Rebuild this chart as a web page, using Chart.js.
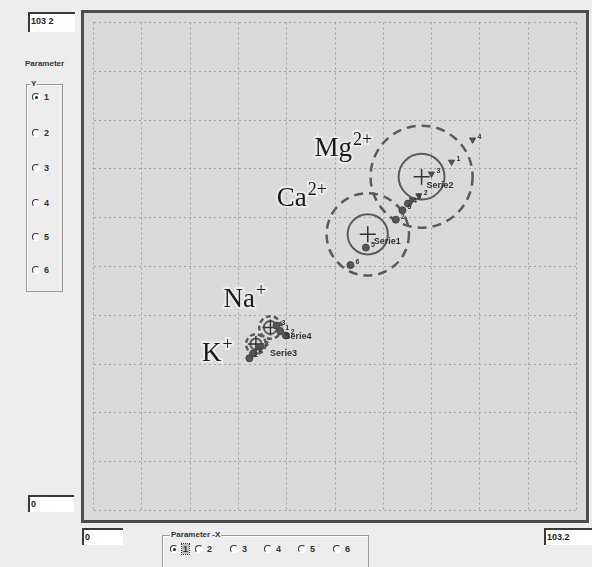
<!DOCTYPE html>
<html>
<head>
<meta charset="utf-8">
<script src="https://cdn.jsdelivr.net/npm/chart.js@4.4.1/dist/chart.umd.min.js"></script>
<style>
  body { margin: 0; background: #ededed; font-family: "Liberation Sans", Arial, sans-serif; }
  #page { position: relative; width: 592px; height: 567px; overflow: hidden; background: #ededed; }
  .box { position: absolute; background: #fff; border-top: 2px solid #3a3a3a; border-left: 2px solid #3a3a3a;
         box-sizing: border-box; font-size: 9px; font-weight: bold; line-height: 14px; padding-left: 1px; color: #222; }
  #plot { position: absolute; left: 81px; top: 10px; width: 508px; height: 513px; border: 3px solid #4d4d4d;
          box-sizing: border-box; background: #dadada; }
  #plot canvas { display: block; }
  .lbl { position: absolute; font-size: 8px; font-weight: bold; color: #333; }
  .group { position: absolute; border: 1px solid #9a9a9a; box-shadow: inset 1px 1px 0 #fff; }
  .legend { position: absolute; background: #ededed; font-size: 8px; font-weight: bold; color: #333; padding: 0 1px; line-height: 9px; }
  .radio { position: absolute; font-size: 9px; font-weight: bold; color: #333; line-height: 10px; white-space: nowrap; }
  .radio i { display: inline-block; width: 6px; height: 6px; border-radius: 50%; border: 1.5px solid;
             border-color: #333 #fff #fff #333; background: #fff; vertical-align: -1px; margin-right: 4px; position: relative; }
  .radio i.on::after { content: ""; position: absolute; left: 1.5px; top: 1.5px; width: 3px; height: 3px; border-radius: 50%; background: #222; }
  .focus { outline: 1px dotted #333; background: #bbb; padding: 0 1px; }
</style>
</head>
<body>
<div id="page">
  <div class="box" style="left:28px;top:12px;width:47px;height:20px;">103 2</div>
  <div class="lbl" style="left:25px;top:59px;">Parameter</div>
  <div class="group" style="left:26px;top:84px;width:35px;height:206px;"></div>
  <div class="legend" style="left:30px;top:79px;">Y</div>
  <div class="radio" style="left:32px;top:92px;"><i class="on"></i>1</div>
  <div class="radio" style="left:32px;top:128px;"><i></i>2</div>
  <div class="radio" style="left:32px;top:163px;"><i></i>3</div>
  <div class="radio" style="left:32px;top:198px;"><i></i>4</div>
  <div class="radio" style="left:32px;top:232px;"><i></i>5</div>
  <div class="radio" style="left:32px;top:265px;"><i></i>6</div>

  <div class="box" style="left:28px;top:495px;width:46px;height:17px;">0</div>
  <div class="box" style="left:82px;top:528px;width:41px;height:17px;">0</div>
  <div class="box" style="left:544px;top:528px;width:48px;height:17px;">103.2</div>

  <div class="group" style="left:162px;top:535px;width:205px;height:40px;"></div>
  <div class="legend" style="left:170px;top:530px;">Parameter -X</div>
  <div class="radio" style="left:170px;top:544px;"><i class="on"></i><span class="focus">1</span></div>
  <div class="radio" style="left:195px;top:544px;"><i></i>2</div>
  <div class="radio" style="left:230px;top:544px;"><i></i>3</div>
  <div class="radio" style="left:264px;top:544px;"><i></i>4</div>
  <div class="radio" style="left:298px;top:544px;"><i></i>5</div>
  <div class="radio" style="left:333px;top:544px;"><i></i>6</div>

  <div id="plot"><canvas id="chart" width="502" height="507"></canvas></div>
</div>

<script>
// axis range and grid
const axisMin = 0;
const axisMax = 103.2;
const gridTicks = [0, 10.32, 20.64, 30.96, 41.28, 51.6, 61.92, 72.24, 82.56, 92.88, 103.2];

// series summary (mean + spread circles)
const seriesNames = ['Serie1', 'Serie2', 'Serie3', 'Serie4'];
const ionNames = ['Ca', 'Mg', 'K', 'Na'];
const ionCharges = ['2+', '2+', '+', '+'];
const meanX = [58.6, 70.1, 34.7, 37.8];
const meanY = [58.4, 70.6, 35.2, 38.7];
const innerRadius = [4.3, 4.9, 1.2, 1.4];
const outerRadius = [8.8, 10.9, 2.1, 2.4];

// individual samples
const serie1X = [54.9, 58.2, 64.6, 66.0, 67.2];
const serie1Y = [51.9, 55.6, 61.5, 63.5, 64.9];
const serie1Ids = ['6', '5', '2', '3', '4'];
const serie2X = [81.0, 76.5, 72.2, 69.5, 68.1];
const serie2Y = [78.4, 73.7, 71.2, 66.6, 65.7];
const serie2Ids = ['4', '1', '3', '2', '5'];
const serie3X = [34.1, 33.3, 35.6];
const serie3Y = [33.2, 32.2, 34.6];
const serie3Ids = ['1', '2', '3'];
const serie4X = [39.9, 41.1, 39.1];
const serie4Y = [37.9, 37.0, 39.1];
const serie4Ids = ['1', '2', '3'];

// label placement (pixels from the mean)
const ionLabelOffsets = [[-91, -28], [-107, -21], [-54, 17], [-47, -21]];
const seriesLabelOffsets = [[6, 7], [5, 9], [14, 9], [14, 9]];

const INK = '#5a5a5a';

function toPoints(xs, ys) {
  return xs.map((x, i) => ({ x, y: ys[i] }));
}

const sampleSets = [
  { x: serie1X, y: serie1Y, ids: serie1Ids, style: 'circle', rotation: 0 },
  { x: serie2X, y: serie2Y, ids: serie2Ids, style: 'triangle', rotation: 180 },
  { x: serie3X, y: serie3Y, ids: serie3Ids, style: 'circle', rotation: 0 },
  { x: serie4X, y: serie4Y, ids: serie4Ids, style: 'circle', rotation: 0 },
];

const datasets = sampleSets.map((s, i) => ({
  label: seriesNames[i],
  data: toPoints(s.x, s.y),
  pointStyle: s.style,
  rotation: s.rotation,
  pointRadius: 3.5,
  backgroundColor: '#555',
  borderColor: '#444',
  borderWidth: 1,
  ids: s.ids,
}));

datasets.push({
  label: 'means',
  data: toPoints(meanX, meanY),
  pointStyle: 'cross',
  pointRadius: 8,
  borderColor: '#333',
  borderWidth: 1.5,
});

const clusterPlugin = {
  id: 'clusters',
  beforeDatasetsDraw(chart) {
    const { ctx, chartArea, scales: { x, y } } = chart;
    ctx.save();
    ctx.beginPath();
    ctx.rect(chartArea.left, chartArea.top, chartArea.width, chartArea.height);
    ctx.clip();
    ctx.strokeStyle = INK;
    seriesNames.forEach((_, i) => {
      const cx = x.getPixelForValue(meanX[i]);
      const cy = y.getPixelForValue(meanY[i]);
      const rIn = x.getPixelForValue(meanX[i] + innerRadius[i]) - cx;
      const rOut = x.getPixelForValue(meanX[i] + outerRadius[i]) - cx;
      ctx.lineWidth = 2.5;
      ctx.setLineDash(rOut > 20 ? [9, 6] : [5, 3]);
      ctx.beginPath();
      ctx.arc(cx, cy, rOut, 0, Math.PI * 2);
      ctx.stroke();
      ctx.setLineDash([]);
      ctx.lineWidth = 2;
      ctx.beginPath();
      ctx.arc(cx, cy, rIn, 0, Math.PI * 2);
      ctx.stroke();
    });
    ctx.restore();
  },
  afterDatasetsDraw(chart) {
    const { ctx, scales: { x, y } } = chart;
    ctx.save();
    // sample numbers
    ctx.fillStyle = '#333';
    ctx.font = 'bold 7px "Liberation Sans", Arial';
    ctx.textBaseline = 'middle';
    chart.data.datasets.forEach((ds) => {
      if (!ds.ids) return;
      ds.data.forEach((p, j) => {
        ctx.fillText(ds.ids[j], x.getPixelForValue(p.x) + 5, y.getPixelForValue(p.y) - 3);
      });
    });
    // series names next to the mean
    ctx.font = 'bold 9px "Liberation Sans", Arial';
    seriesNames.forEach((name, i) => {
      const cx = x.getPixelForValue(meanX[i]);
      const cy = y.getPixelForValue(meanY[i]);
      ctx.fillText(name, cx + seriesLabelOffsets[i][0], cy + seriesLabelOffsets[i][1]);
    });
    // ion labels
    ctx.textBaseline = 'alphabetic';
    ionNames.forEach((ion, i) => {
      const lx = x.getPixelForValue(meanX[i]) + ionLabelOffsets[i][0];
      const ly = y.getPixelForValue(meanY[i]) + ionLabelOffsets[i][1];
      ctx.font = '27px "Liberation Serif", "DejaVu Serif", serif';
      ctx.lineWidth = 4;
      ctx.strokeStyle = 'rgba(236,236,236,0.85)';
      ctx.strokeText(ion, lx, ly);
      ctx.fillStyle = '#1a1a1a';
      ctx.fillText(ion, lx, ly);
      const w = ctx.measureText(ion).width;
      ctx.font = '18px "Liberation Serif", "DejaVu Serif", serif';
      ctx.strokeText(ionCharges[i], lx + w + 1, ly - 11);
      ctx.fillText(ionCharges[i], lx + w + 1, ly - 11);
    });
    ctx.restore();
  },
};

const gridScale = {
  type: 'linear',
  min: axisMin,
  max: axisMax,
  afterBuildTicks: (scale) => { scale.ticks = gridTicks.map((v) => ({ value: v })); },
  ticks: { display: false },
  grid: { color: '#a3a3a3', lineWidth: 1, drawTicks: false, tickLength: 0 },
};

new Chart(document.getElementById('chart'), {
  type: 'scatter',
  data: { datasets },
  options: {
    responsive: false,
    animation: false,
    layout: { padding: 0 },
    scales: {
      x: { ...gridScale, border: { display: false, dash: [2, 3] } },
      y: { ...gridScale, border: { display: false, dash: [2, 3] } },
    },
    plugins: {
      legend: { display: false },
      tooltip: { enabled: false },
    },
  },
  plugins: [clusterPlugin],
});
</script>
</body>
</html>
